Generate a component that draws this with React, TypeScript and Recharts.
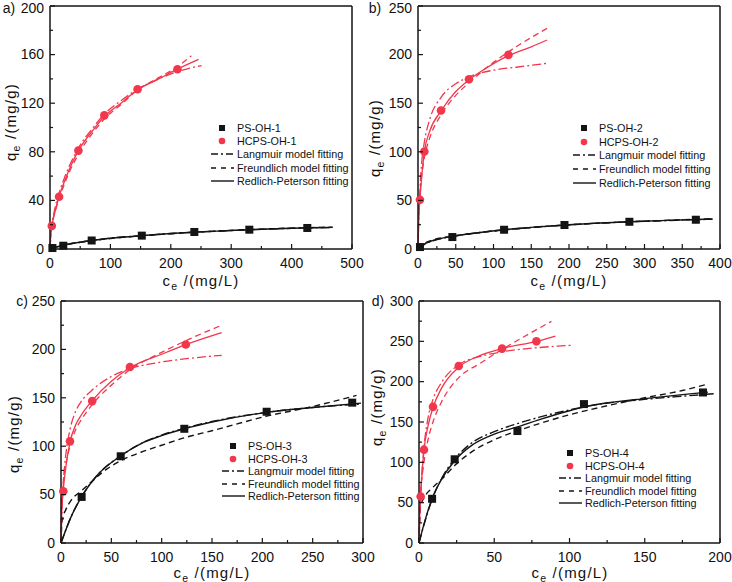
import React from 'react';
import { ComposedChart, Line, Scatter, XAxis, YAxis, ReferenceLine } from 'recharts';

const RED = '#f2364c';
const BLACK = '#141414';
const FONT = '"Liberation Sans", Arial, sans-serif';

// ---- panel a) ----
const aPsX = [4, 22, 69, 152, 239, 330, 426];
const aPsY = [0.8, 2.7, 7, 11, 14, 15.9, 17.3];
const aHcX = [3, 15, 47, 90, 145, 211];
const aHcY = [19, 43, 81, 110, 131.5, 148];
const aBlackX = [0, 10, 22, 50, 69, 100, 152, 200, 239, 300, 330, 400, 468];
const aBlackL = [0, 1.5, 3, 5.6, 7, 8.9, 11, 12.7, 13.8, 15.2, 15.8, 17, 17.6];
const aBlackF = [0, 2, 3.4, 5.6, 6.9, 8.6, 10.9, 12.6, 13.8, 15.3, 16, 17.2, 18];
const aBlackRP = [0, 1.6, 3.1, 5.6, 7, 8.8, 11, 12.7, 13.9, 15.2, 15.9, 17.1, 17.8];
const aRedLX = [0, 1, 3, 8, 15, 25, 47, 70, 90, 120, 145, 180, 211, 251];
const aRedLY = [0, 8, 19, 33, 46, 60, 83, 99, 111, 123, 131.5, 140, 146, 151];
const aRedFX = [0, 1, 3, 8, 15, 25, 47, 70, 90, 120, 145, 180, 211, 234];
const aRedFY = [0, 12, 20, 30, 41, 55, 78, 95, 107, 120, 131, 141, 150, 159];
const aRedRPX = [0, 1, 3, 8, 15, 25, 47, 70, 90, 120, 145, 180, 211, 246];
const aRedRPY = [0, 9, 18, 30, 43, 57, 81, 97, 109, 121, 131, 140, 148, 156];
const aXTicks = [0, 50, 100, 150, 200, 250, 300, 350, 400, 450, 500];
const aYTicks = [0, 20, 40, 60, 80, 100, 120, 140, 160, 180, 200];

// ---- panel b) ----
const bPsX = [2.6, 45.5, 114, 194, 280, 368];
const bPsY = [2, 12.3, 19.8, 24.7, 28, 30.1];
const bHcX = [2.6, 8.4, 30.5, 67.5, 119.7];
const bHcY = [50.7, 100.3, 142.5, 174.7, 199.7];
const bBlackX = [0, 5, 10, 20, 45.5, 80, 114, 150, 194, 250, 280, 330, 368, 390];
const bBlackL = [0, 3, 5.5, 8.5, 13, 16.8, 19.8, 22.2, 24.6, 27, 28, 29.3, 30.2, 30.6];
const bBlackF = [0, 4, 6.5, 9.5, 13.2, 16.7, 19.6, 22, 24.5, 27, 28, 29.5, 30.5, 31];
const bBlackRP = [0, 3.2, 5.8, 8.8, 13, 16.7, 19.8, 22.2, 24.7, 27, 28, 29.4, 30.3, 30.8];
const bRedLX = [0, 1, 2.6, 5, 8.4, 15, 30.5, 50, 67.5, 100, 130, 171];
const bRedLY = [0, 30, 62, 90, 110, 132, 156, 170, 177, 184, 187, 191];
const bRedFX = [0, 1, 2.6, 5, 8.4, 15, 30.5, 50, 67.5, 100, 120, 171];
const bRedFY = [0, 40, 58, 76, 94, 113, 138, 158, 171, 192, 203, 227];
const bRedRPX = [0, 1, 2.6, 5, 8.4, 15, 30.5, 50, 67.5, 90, 119.7, 150, 171];
const bRedRPY = [0, 30, 51, 75, 100, 120, 142, 162, 174, 186, 199, 208, 215];
const bXTicks = [0, 25, 50, 75, 100, 125, 150, 175, 200, 225, 250, 275, 300, 325, 350, 375, 400];
const bYTicks = [0, 25, 50, 75, 100, 125, 150, 175, 200, 225, 250];

// ---- panel c) ----
const cPsX = [20.5, 59.3, 122.5, 204.3, 289.3];
const cPsY = [47.6, 89.6, 118, 135.6, 145];
const cHcX = [2.3, 8.9, 31, 68.5, 124];
const cHcY = [53.4, 105, 146.6, 181.8, 205];
const cBlackX = [0, 10, 20.5, 36, 59.3, 80, 100, 122.5, 150, 204.3, 250, 298];
const cBlackL = [0, 27, 48, 70, 90, 103, 111.5, 118.5, 125.5, 135, 140, 143.5];
const cBlackRP = [0, 27, 48, 70, 90, 103, 111, 118, 125, 135, 140, 144.5];
const cBlackFX = [0, 1, 5, 10, 20.5, 30, 45, 59.3, 80, 100, 122.5, 150, 204.3, 250, 293.6];
const cBlackFY = [0, 22, 35, 44, 54, 63, 76, 85, 94, 101, 108.7, 116, 131, 141, 152.5];
const cRedLX = [0, 0.5, 1, 2.3, 5, 8.9, 15, 20, 31, 50, 68.5, 100, 130, 159.6];
const cRedLY = [0, 18, 35, 62, 93, 117, 137, 146, 158, 172, 180, 187, 191, 193.9];
const cRedFX = [0, 0.5, 1, 2.3, 5, 8.9, 15, 20, 31, 50, 68.5, 100, 124, 159.6];
const cRedFY = [0, 40, 50, 64, 82, 100, 118, 127, 143, 163, 179, 197, 209, 225];
const cRedRPX = [0, 0.5, 1, 2.3, 5, 8.9, 15, 20, 31, 50, 68.5, 100, 124, 159.6];
const cRedRPY = [0, 25, 38, 55, 80, 104, 123, 132, 147, 167, 181, 195, 205, 217.4];
const cXTicks = [0, 25, 50, 75, 100, 125, 150, 175, 200, 225, 250, 275, 300];
const cYTicks = [0, 25, 50, 75, 100, 125, 150, 175, 200, 225, 250];

// ---- panel d) ----
const dPsX = [8.7, 23.7, 65.4, 109.6, 188.7];
const dPsY = [54.8, 103.8, 138.8, 172.2, 186.6];
const dHcX = [1.1, 3.3, 9.3, 26.4, 55.2, 78];
const dHcY = [57.6, 115.7, 168.8, 219.5, 241, 250];
const dBlackLX = [0, 4, 8.7, 15, 23.7, 35, 50, 65.4, 80, 100, 113, 150, 175, 195.8];
const dBlackLY = [0, 27, 54, 80, 104, 124, 138, 148, 156, 165, 170, 178, 182, 185];
const dBlackFX = [0, 1, 4, 8.7, 15, 23.7, 35, 50, 65.4, 80, 100, 113, 150, 175, 192.3];
const dBlackFY = [0, 45, 58, 68, 79, 96, 113, 128, 139, 148, 159, 165, 180, 189, 197.3];
const dBlackRPX = [0, 4, 8.7, 15, 23.7, 35, 50, 65.4, 80, 100, 113, 150, 175, 192];
const dBlackRPY = [0, 28, 55, 79, 102, 121, 135, 144, 153, 164, 170, 179, 184, 187];
const dRedLX = [0, 0.5, 1.1, 3.3, 6, 9.3, 15, 26.4, 40, 55.2, 78, 100.8];
const dRedLY = [0, 30, 58, 118, 155, 178, 199, 221, 231, 237, 242, 245];
const dRedFX = [0, 0.5, 1.1, 3.3, 6, 9.3, 15, 26.4, 40, 55.2, 70, 88];
const dRedFY = [0, 50, 65, 100, 128, 150, 175, 205, 222, 240, 256, 274.8];
const dRedRPX = [0, 0.5, 1.1, 3.3, 6, 9.3, 15, 26.4, 40, 55.2, 78, 90.6];
const dRedRPY = [0, 35, 58, 115, 145, 168, 192, 218, 232, 241, 250, 256.6];
const dXTicks = [0, 25, 50, 75, 100, 125, 150, 175, 200];
const dYTicks = [0, 25, 50, 75, 100, 125, 150, 175, 200, 225, 250, 275, 300];

const legendFits = ['Langmuir model fitting', 'Freundlich model fitting', 'Redlich-Peterson fitting'];
const DASH_L = '9 3 2 3';
const DASH_F = '6 4';

type Pt = { x: number; y: number };
const zip = (xs: number[], ys: number[]): Pt[] => xs.map((x, i) => ({ x, y: ys[i] }));

// ticks point inward; minor ticks carry no label
const YTick = (props: any) => {
  const { x, y, payload, major, topValue } = props;
  const isMajor = payload.value % major === 0;
  // keep the top label of the upper row inside the page
  const dy = payload.value === topValue ? 6.5 : 4.8;
  return (
    <g>
      <line x1={x} x2={x + (isMajor ? 5 : 3)} y1={y} y2={y} stroke={BLACK} strokeWidth={1.2} />
      {isMajor && (
        <text x={x - 6} y={y} dy={dy} textAnchor="end" fontSize={14} fontFamily={FONT} fill="#111">
          {payload.value}
        </text>
      )}
    </g>
  );
};

const XTick = (props: any) => {
  const { x, y, payload, major } = props;
  const isMajor = payload.value % major === 0;
  return (
    <g>
      <line x1={x} x2={x} y1={y} y2={y - (isMajor ? 5 : 3)} stroke={BLACK} strokeWidth={1.2} />
      {isMajor && (
        <text x={x} y={y + 19} textAnchor="middle" fontSize={14} fontFamily={FONT} fill="#111">
          {payload.value}
        </text>
      )}
    </g>
  );
};

const Square = (props: any) => (
  <rect x={props.cx - 4} y={props.cy - 4} width={8} height={8} fill={BLACK} />
);
const Dot = (props: any) => <circle cx={props.cx} cy={props.cy} r={4.3} fill={RED} />;

interface PanelProps {
  left: number; top: number; width: number; height: number;
  margin: { top: number; right: number; bottom: number; left: number };
  xMax: number; xTicks: number[]; xMajor: number;
  yMax: number; yTicks: number[]; yMajor: number;
  topRow?: boolean;
  ps: Pt[]; hc: Pt[];
  blackL: Pt[]; blackF: Pt[]; blackRP: Pt[];
  redL: Pt[]; redF: Pt[]; redRP: Pt[];
}

const Panel: React.FC<PanelProps> = (p) => (
  <div style={{ position: 'absolute', left: p.left, top: p.top }}>
    <ComposedChart
      width={p.width} height={p.height}
      margin={{ ...p.margin, left: p.margin.left - 1, bottom: p.margin.bottom - 1 }}
      style={{ overflow: 'visible' }}
    >
      <XAxis
        dataKey="x" type="number" domain={[0, p.xMax]} ticks={p.xTicks} interval={0}
        height={1} tickSize={0} tickMargin={0} tickLine={false}
        axisLine={{ stroke: BLACK, strokeWidth: 1.5 }}
        tick={<XTick major={p.xMajor} />}
      />
      <YAxis
        dataKey="y" type="number" domain={[0, p.yMax]} ticks={p.yTicks} interval={0}
        width={1} tickSize={0} tickMargin={0} tickLine={false}
        axisLine={{ stroke: BLACK, strokeWidth: 1.5 }}
        tick={<YTick major={p.yMajor} topValue={p.topRow ? p.yMax : null} />}
      />
      <ReferenceLine y={p.yMax} stroke={BLACK} strokeWidth={1.5} />
      <ReferenceLine x={p.xMax} stroke={BLACK} strokeWidth={1.5} />
      <Line data={p.blackL} dataKey="y" type="monotone" stroke={BLACK} strokeWidth={1.4} strokeDasharray={DASH_L} dot={false} activeDot={false} isAnimationActive={false} />
      <Line data={p.blackF} dataKey="y" type="monotone" stroke={BLACK} strokeWidth={1.4} strokeDasharray={DASH_F} dot={false} activeDot={false} isAnimationActive={false} />
      <Line data={p.blackRP} dataKey="y" type="monotone" stroke={BLACK} strokeWidth={1.4} dot={false} activeDot={false} isAnimationActive={false} />
      <Line data={p.redL} dataKey="y" type="monotone" stroke={RED} strokeWidth={1.3} strokeDasharray={DASH_L} dot={false} activeDot={false} isAnimationActive={false} />
      <Line data={p.redF} dataKey="y" type="monotone" stroke={RED} strokeWidth={1.3} strokeDasharray={DASH_F} dot={false} activeDot={false} isAnimationActive={false} />
      <Line data={p.redRP} dataKey="y" type="monotone" stroke={RED} strokeWidth={1.3} dot={false} activeDot={false} isAnimationActive={false} />
      <Scatter data={p.ps} dataKey="y" shape={<Square />} isAnimationActive={false} />
      <Scatter data={p.hc} dataKey="y" shape={<Dot />} isAnimationActive={false} />
    </ComposedChart>
  </div>
);

const PanelLegend: React.FC<{ left: number; top: number; gap: number; names: string[] }> = ({ left, top, gap, names }) => {
  const rows = [
    { label: names[0], kind: 'square' },
    { label: names[1], kind: 'dot' },
    { label: legendFits[0], kind: DASH_L },
    { label: legendFits[1], kind: DASH_F },
    { label: legendFits[2], kind: 'solid' },
  ];
  return (
    <div style={{ position: 'absolute', left, top, fontFamily: FONT, fontSize: 10.8, color: '#111' }}>
      {rows.map(r => (
        <div key={r.label} style={{ display: 'flex', alignItems: 'center', height: gap, whiteSpace: 'nowrap' }}>
          <svg width={26} height={10} style={{ marginRight: 2 }}>
            {r.kind === 'square' && <rect x={10} y={2} width={6} height={6} fill={BLACK} />}
            {r.kind === 'dot' && <circle cx={13} cy={5} r={3.3} fill={RED} />}
            {r.kind !== 'square' && r.kind !== 'dot' && (
              <line x1={2} x2={25} y1={5} y2={5} stroke={BLACK} strokeWidth={1.4}
                strokeDasharray={r.kind === 'solid' ? undefined : (r.kind === DASH_F ? '5 5' : '7 3 2 3')} />
            )}
          </svg>
          <span>{r.label}</span>
        </div>
      ))}
    </div>
  );
};

const Txt: React.FC<{ x: number; y: number; rotate?: boolean; children: React.ReactNode; size?: number; spacing?: number }> = ({ x, y, rotate, children, size = 15, spacing = 1.2 }) => (
  <div style={{
    position: 'absolute', left: x, top: y, whiteSpace: 'nowrap', fontFamily: FONT, fontSize: size,
    letterSpacing: spacing, color: '#111', lineHeight: 1,
    transform: `translate(-50%, -50%)${rotate ? ' rotate(-90deg)' : ''}`,
  }}>
    {children}
  </div>
);

const qTitle = <>q<sub style={{ fontSize: '70%', lineHeight: 0 }}>e</sub> /(mg/g)</>;
const cTitle = <>c<sub style={{ fontSize: '70%', lineHeight: 0 }}>e</sub> /(mg/L)</>;

export default function App() {
  return (
    <div style={{ position: 'absolute', left: 0, top: 0, width: 732, height: 582, background: '#fff', overflow: 'hidden' }}>
      <Panel
        left={0} top={0} width={380} height={290} margin={{ top: 6, right: 28, bottom: 41, left: 50 }}
        xMax={500} xTicks={aXTicks} xMajor={100} yMax={200} yTicks={aYTicks} yMajor={40} topRow
        ps={zip(aPsX, aPsY)} hc={zip(aHcX, aHcY)}
        blackL={zip(aBlackX, aBlackL)} blackF={zip(aBlackX, aBlackF)} blackRP={zip(aBlackX, aBlackRP)}
        redL={zip(aRedLX, aRedLY)} redF={zip(aRedFX, aRedFY)} redRP={zip(aRedRPX, aRedRPY)}
      />
      <Panel
        left={366} top={0} width={366} height={290} margin={{ top: 6, right: 12, bottom: 41, left: 52 }}
        xMax={400} xTicks={bXTicks} xMajor={50} yMax={250} yTicks={bYTicks} yMajor={50} topRow
        ps={zip(bPsX, bPsY)} hc={zip(bHcX, bHcY)}
        blackL={zip(bBlackX, bBlackL)} blackF={zip(bBlackX, bBlackF)} blackRP={zip(bBlackX, bBlackRP)}
        redL={zip(bRedLX, bRedLY)} redF={zip(bRedFX, bRedFY)} redRP={zip(bRedRPX, bRedRPY)}
      />
      <Panel
        left={0} top={290} width={380} height={292} margin={{ top: 11, right: 17, bottom: 39, left: 61 }}
        xMax={300} xTicks={cXTicks} xMajor={50} yMax={250} yTicks={cYTicks} yMajor={50}
        ps={zip(cPsX, cPsY)} hc={zip(cHcX, cHcY)}
        blackL={zip(cBlackX, cBlackL)} blackF={zip(cBlackFX, cBlackFY)} blackRP={zip(cBlackX, cBlackRP)}
        redL={zip(cRedLX, cRedLY)} redF={zip(cRedFX, cRedFY)} redRP={zip(cRedRPX, cRedRPY)}
      />
      <Panel
        left={366} top={290} width={366} height={292} margin={{ top: 11, right: 12, bottom: 39, left: 53 }}
        xMax={200} xTicks={dXTicks} xMajor={50} yMax={300} yTicks={dYTicks} yMajor={50}
        ps={zip(dPsX, dPsY)} hc={zip(dHcX, dHcY)}
        blackL={zip(dBlackLX, dBlackLY)} blackF={zip(dBlackFX, dBlackFY)} blackRP={zip(dBlackRPX, dBlackRPY)}
        redL={zip(dRedLX, dRedLY)} redF={zip(dRedFX, dRedFY)} redRP={zip(dRedRPX, dRedRPY)}
      />

      <PanelLegend left={209} top={121} gap={13.4} names={['PS-OH-1', 'HCPS-OH-1']} />
      <PanelLegend left={571} top={121} gap={13.7} names={['PS-OH-2', 'HCPS-OH-2']} />
      <PanelLegend left={220} top={440} gap={12.5} names={['PS-OH-3', 'HCPS-OH-3']} />
      <PanelLegend left={557} top={447} gap={12.5} names={['PS-OH-4', 'HCPS-OH-4']} />

      <Txt x={9} y={8} size={14} spacing={0}>a)</Txt>
      <Txt x={375} y={8} size={14} spacing={0}>b)</Txt>
      <Txt x={22} y={301} size={14} spacing={0}>c)</Txt>
      <Txt x={378} y={301} size={14} spacing={0}>d)</Txt>

      <Txt x={10} y={122} rotate>{qTitle}</Txt>
      <Txt x={374} y={138} rotate>{qTitle}</Txt>
      <Txt x={13} y={434} rotate>{qTitle}</Txt>
      <Txt x={376} y={407} rotate>{qTitle}</Txt>

      <Txt x={201} y={280}>{cTitle}</Txt>
      <Txt x={569} y={280}>{cTitle}</Txt>
      <Txt x={212} y={572}>{cTitle}</Txt>
      <Txt x={570} y={572}>{cTitle}</Txt>
    </div>
  );
}
